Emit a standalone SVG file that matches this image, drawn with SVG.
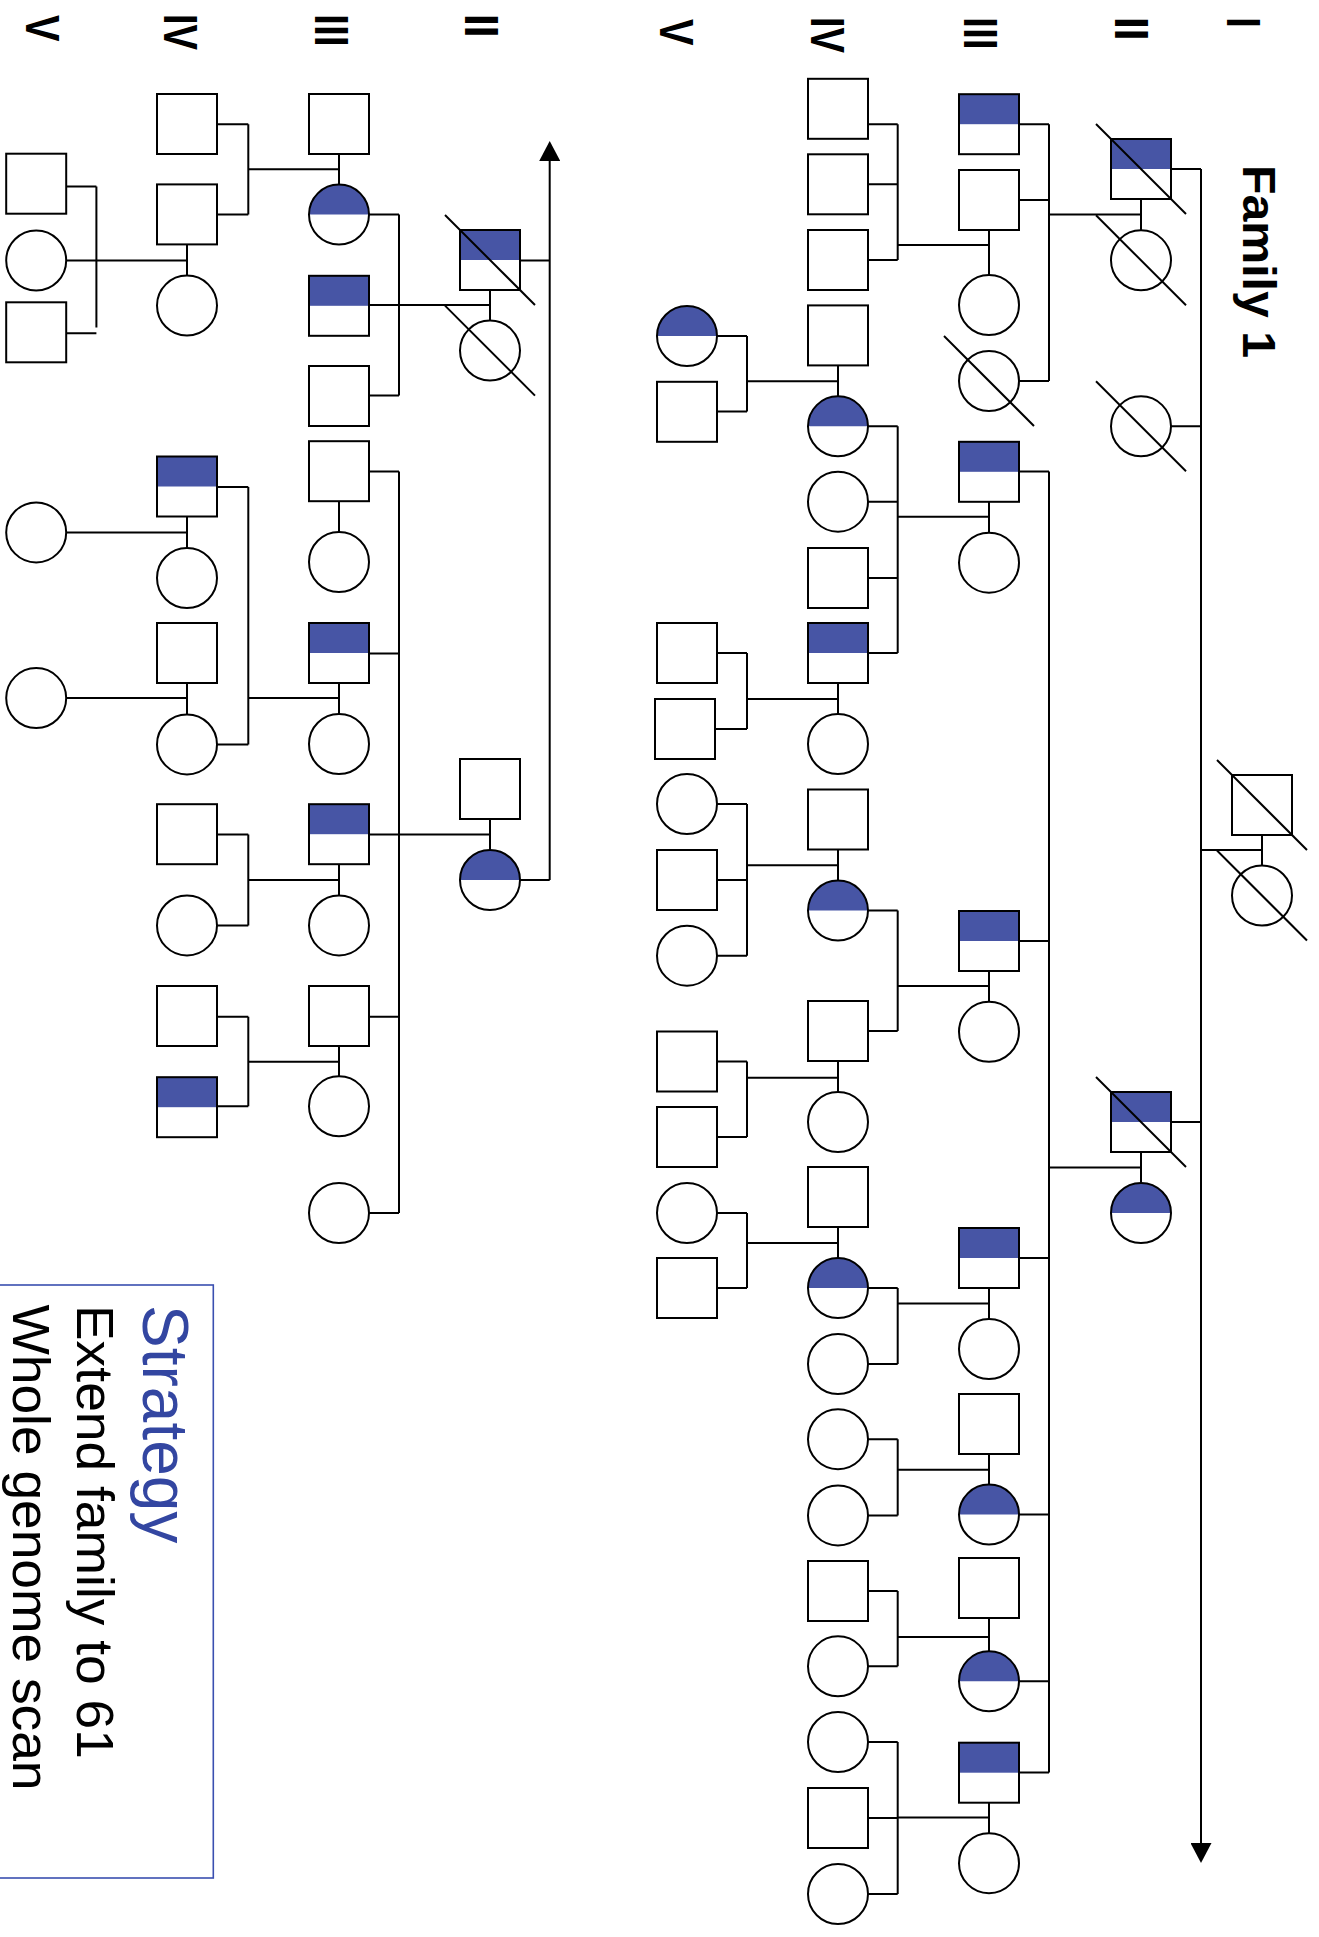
<svg xmlns="http://www.w3.org/2000/svg" width="1319" height="1937" viewBox="0 0 1319 1937">
<style>
.n{fill:#fff;stroke:#000;stroke-width:2}
.o{fill:none;stroke:#000;stroke-width:2}
.a{fill:#4755a5}
.s{stroke:#000;stroke-width:2}
.lk{fill:none;stroke:#000;stroke-width:2}
.gen{font-family:"Liberation Sans",Arial,sans-serif;font-weight:bold;font-size:49px;fill:#000}
.ttl{font-family:"Liberation Sans",Arial,sans-serif;font-weight:bold;font-size:47px;fill:#000}
.st{font-family:"Liberation Sans",Arial,sans-serif;font-size:64px;fill:#3346a1}
.bt{font-family:"Liberation Sans",Arial,sans-serif;font-size:52px;fill:#000}
</style>
<defs>
<marker id="arr" viewBox="0 0 20 21" refX="0" refY="10.5" markerWidth="20" markerHeight="21" markerUnits="userSpaceOnUse" orient="auto"><path d="M0,0 L20,10.5 L0,21 Z" fill="#000"/></marker>
<rect id="sq" x="-30" y="-30" width="60" height="60" class="n"/>
<g id="sqA"><rect x="-30" y="-30" width="60" height="60" fill="#fff"/><rect x="-30" y="-30" width="60" height="30" class="a"/><rect x="-30" y="-30" width="60" height="60" class="o"/></g>
<circle id="ci" r="30" class="n"/>
<g id="ciA"><circle r="30" fill="#fff"/><path d="M-30,0 A30,30 0 0 1 30,0 Z" class="a"/><circle r="30" class="o"/></g>
<line id="sl" x1="-45" y1="-45" x2="45" y2="45" class="s"/>
</defs>
<rect width="1319" height="1937" fill="#fff"/>

<g id="labels">
<text class="ttl" transform="translate(1243.3,165) rotate(90)" textLength="193" lengthAdjust="spacingAndGlyphs">Family 1</text>
<text class="gen" transform="translate(1227,17) rotate(90)" textLength="11" lengthAdjust="spacingAndGlyphs">I</text>
<text class="gen" transform="translate(1115,17) rotate(90)" textLength="23.5" lengthAdjust="spacingAndGlyphs">II</text>
<text class="gen" transform="translate(964,17) rotate(90)" textLength="32.7" lengthAdjust="spacingAndGlyphs">III</text>
<text class="gen" transform="translate(811,17) rotate(90)" textLength="36" lengthAdjust="spacingAndGlyphs">IV</text>
<text class="gen" transform="translate(660,19) rotate(90)" textLength="26.5" lengthAdjust="spacingAndGlyphs">V</text>
<text class="gen" transform="translate(465,14) rotate(90)" textLength="23.5" lengthAdjust="spacingAndGlyphs">II</text>
<text class="gen" transform="translate(315,14) rotate(90)" textLength="32.7" lengthAdjust="spacingAndGlyphs">III</text>
<text class="gen" transform="translate(164,14) rotate(90)" textLength="36" lengthAdjust="spacingAndGlyphs">IV</text>
<text class="gen" transform="translate(26,15) rotate(90)" textLength="26.5" lengthAdjust="spacingAndGlyphs">V</text>
</g>

<g id="connectors">
<line class="lk" x1="1201" y1="169" x2="1201" y2="1843" marker-end="url(#arr)"/>
<line class="lk" x1="549.7" y1="880" x2="549.7" y2="161" marker-end="url(#arr)"/>
<path class="lk" d="M1201,850 H1262 M1262,835 V865.5
M1171,169 H1201 M1171,426.3 H1201 M1171,1122 H1201
M1141,199 V230 M1049,214.6 H1141
M1141,1152 V1183 M1049,1167.4 H1141
M1049,124.2 V381 M1019,124.2 H1049 M1019,200 H1049 M1019,381 H1049
M989,230 V275 M897.7,245 H989
M1049,471.5 V1772.5
M1019,471.5 H1049 M1019,941 H1049 M1019,1258 H1049 M1019,1514.6 H1049 M1019,1681.3 H1049 M1019,1772.5 H1049
M989,502 V533 M897.7,516.8 H989
M989,971 V1002 M897.7,986 H989
M989,1288 V1319 M897.7,1303.5 H989
M989,1454 V1484.6 M897.7,1469.8 H989
M989,1618 V1651.3 M897.7,1637 H989
M989,1802.7 V1833.2 M897.7,1817.5 H989
M897.7,124.2 V260 M868,124.2 H897.7 M868,184.3 H897.7 M868,260 H897.7
M897.7,426.3 V653 M868,426.3 H897.7 M868,501.7 H897.7 M868,578 H897.7 M868,653 H897.7
M838,365.4 V396.3 M747,381.3 H838
M838,683 V714 M747,698.9 H838
M897.7,910.6 V1031 M868,910.6 H897.7 M868,1031 H897.7
M838,849.5 V880.6 M747,865.2 H838
M838,1061 V1092 M747,1077.7 H838
M897.7,1288 V1364 M868,1288 H897.7 M868,1364 H897.7
M838,1227 V1258 M747,1243 H838
M897.7,1439.2 V1515.4 M868,1439.2 H897.7 M868,1515.4 H897.7
M897.7,1591 V1666.3 M868,1591 H897.7 M868,1666.3 H897.7
M897.7,1742 V1894 M868,1742 H897.7 M868,1818 H897.7 M868,1894 H897.7
M747,336 V411.5 M717,336 H747 M717,411.5 H747
M747,653 V729 M717,653 H747 M715,729 H747
M747,804 V955.7 M717,804 H747 M717,880 H747 M717,955.7 H747
M747,1061.5 V1137 M717,1061.5 H747 M717,1137 H747
M747,1213 V1288 M717,1213 H747 M717,1288 H747"/>
<path class="lk" d="M520,260.5 H549.7 M520,880 H549.7
M490,290 V320.6 M399,305.1 H490
M490,819 V850 M399,834.4 H490
M399,214.6 V395.6 M369,214.6 H399 M369,305.1 H399 M369,395.6 H399
M339,154 V184.6 M248.3,169.2 H339
M399,471.4 V1213 M369,471.4 H399 M369,653.5 H399 M369,834.4 H399 M369,1016.7 H399 M369,1213 H399
M339,501.2 V532
M339,683 V714 M248.3,698.1 H339
M339,864.2 V895.4 M248.3,879.9 H339
M339,1046 V1076.3 M248.3,1061.7 H339
M248.3,124.2 V214.6 M217,124.2 H248.3 M217,214.6 H248.3
M187,244.4 V275.6 M66,260.5 H187
M248.3,487 V744.4 M217,487 H248.3 M217,744.4 H248.3
M187,516.5 V548 M66,532.4 H187
M187,683 V714.4 M66,698.1 H187
M248.3,834.4 V925.4 M217,834.4 H248.3 M217,925.4 H248.3
M248.3,1016.7 V1106.3 M217,1016.7 H248.3 M217,1106.3 H248.3
M96.4,186.4 V327.4 M66,186.4 H96.4 M66,333.3 H96.4"/>
</g>

<g id="family1">
<g id="f1-I-1"><use href="#sq" x="1262" y="805"/><use href="#sl" x="1262" y="805"/></g>
<g id="f1-I-2"><use href="#ci" x="1262" y="895.5"/><use href="#sl" x="1262" y="895.5"/></g>
<g id="f1-II-1"><use href="#sqA" x="1141" y="169"/><use href="#sl" x="1141" y="169"/></g>
<g id="f1-II-2"><use href="#ci" x="1141" y="260.3"/><use href="#sl" x="1141" y="260.3"/></g>
<g id="f1-II-3"><use href="#ci" x="1141" y="426.3"/><use href="#sl" x="1141" y="426.3"/></g>
<g id="f1-II-4"><use href="#sqA" x="1141" y="1122"/><use href="#sl" x="1141" y="1122"/></g>
<g id="f1-II-5"><use href="#ciA" x="1141" y="1213"/></g>
<g id="f1-III-1"><use href="#sqA" x="989" y="124.2"/></g>
<g id="f1-III-2"><use href="#sq" x="989" y="200"/></g>
<g id="f1-III-3"><use href="#ci" x="989" y="305"/></g>
<g id="f1-III-4"><use href="#ci" x="989" y="381"/><use href="#sl" x="989" y="381"/></g>
<g id="f1-III-5"><use href="#sqA" x="989" y="471.8"/></g>
<g id="f1-III-6"><use href="#ci" x="989" y="562.7"/></g>
<g id="f1-III-7"><use href="#sqA" x="989" y="941"/></g>
<g id="f1-III-8"><use href="#ci" x="989" y="1031.8"/></g>
<g id="f1-III-9"><use href="#sqA" x="989" y="1258"/></g>
<g id="f1-III-10"><use href="#ci" x="989" y="1349"/></g>
<g id="f1-III-11"><use href="#sq" x="989" y="1424"/></g>
<g id="f1-III-12"><use href="#ciA" x="989" y="1514.6"/></g>
<g id="f1-III-13"><use href="#sq" x="989" y="1588"/></g>
<g id="f1-III-14"><use href="#ciA" x="989" y="1681.3"/></g>
<g id="f1-III-15"><use href="#sqA" x="989" y="1772.7"/></g>
<g id="f1-III-16"><use href="#ci" x="989" y="1863.2"/></g>
<g id="f1-IV-1"><use href="#sq" x="838" y="108.8"/></g>
<g id="f1-IV-2"><use href="#sq" x="838" y="184.3"/></g>
<g id="f1-IV-3"><use href="#sq" x="838" y="260"/></g>
<g id="f1-IV-4"><use href="#sq" x="838" y="335.4"/></g>
<g id="f1-IV-5"><use href="#ciA" x="838" y="426.3"/></g>
<g id="f1-IV-6"><use href="#ci" x="838" y="501.7"/></g>
<g id="f1-IV-7"><use href="#sq" x="838" y="578"/></g>
<g id="f1-IV-8"><use href="#sqA" x="838" y="653"/></g>
<g id="f1-IV-9"><use href="#ci" x="838" y="744"/></g>
<g id="f1-IV-10"><use href="#sq" x="838" y="819.5"/></g>
<g id="f1-IV-11"><use href="#ciA" x="838" y="910.6"/></g>
<g id="f1-IV-12"><use href="#sq" x="838" y="1031"/></g>
<g id="f1-IV-13"><use href="#ci" x="838" y="1122"/></g>
<g id="f1-IV-14"><use href="#sq" x="838" y="1197"/></g>
<g id="f1-IV-15"><use href="#ciA" x="838" y="1288"/></g>
<g id="f1-IV-16"><use href="#ci" x="838" y="1364"/></g>
<g id="f1-IV-17"><use href="#ci" x="838" y="1439.2"/></g>
<g id="f1-IV-18"><use href="#ci" x="838" y="1515.4"/></g>
<g id="f1-IV-19"><use href="#sq" x="838" y="1591"/></g>
<g id="f1-IV-20"><use href="#ci" x="838" y="1666.3"/></g>
<g id="f1-IV-21"><use href="#ci" x="838" y="1742"/></g>
<g id="f1-IV-22"><use href="#sq" x="838" y="1818"/></g>
<g id="f1-IV-23"><use href="#ci" x="838" y="1894"/></g>
<g id="f1-V-1"><use href="#ciA" x="687" y="336"/></g>
<g id="f1-V-2"><use href="#sq" x="687" y="411.8"/></g>
<g id="f1-V-3"><use href="#sq" x="687" y="653"/></g>
<g id="f1-V-4"><use href="#sq" x="685" y="729"/></g>
<g id="f1-V-5"><use href="#ci" x="687" y="804"/></g>
<g id="f1-V-6"><use href="#sq" x="687" y="880"/></g>
<g id="f1-V-7"><use href="#ci" x="687" y="955.7"/></g>
<g id="f1-V-8"><use href="#sq" x="687" y="1061.5"/></g>
<g id="f1-V-9"><use href="#sq" x="687" y="1137"/></g>
<g id="f1-V-10"><use href="#ci" x="687" y="1213"/></g>
<g id="f1-V-11"><use href="#sq" x="687" y="1288"/></g>
</g>

<g id="family2">
<g id="f2-II-1"><use href="#sqA" x="490" y="260"/><use href="#sl" x="490" y="260"/></g>
<g id="f2-II-2"><use href="#ci" x="490" y="350.6"/><use href="#sl" x="490" y="350.6"/></g>
<g id="f2-II-3"><use href="#sq" x="490" y="789"/></g>
<g id="f2-II-4"><use href="#ciA" x="490" y="880"/></g>
<g id="f2-III-1"><use href="#sq" x="339" y="124"/></g>
<g id="f2-III-2"><use href="#ciA" x="339" y="214.6"/></g>
<g id="f2-III-3"><use href="#sqA" x="339" y="305.8"/></g>
<g id="f2-III-4"><use href="#sq" x="339" y="396"/></g>
<g id="f2-III-5"><use href="#sq" x="339" y="471.2"/></g>
<g id="f2-III-6"><use href="#ci" x="339" y="562"/></g>
<g id="f2-III-7"><use href="#sqA" x="339" y="653"/></g>
<g id="f2-III-8"><use href="#ci" x="339" y="744"/></g>
<g id="f2-III-9"><use href="#sqA" x="339" y="834.2"/></g>
<g id="f2-III-10"><use href="#ci" x="339" y="925.4"/></g>
<g id="f2-III-11"><use href="#sq" x="339" y="1016"/></g>
<g id="f2-III-12"><use href="#ci" x="339" y="1106.3"/></g>
<g id="f2-III-13"><use href="#ci" x="339" y="1213"/></g>
<g id="f2-IV-1"><use href="#sq" x="187" y="124"/></g>
<g id="f2-IV-2"><use href="#sq" x="187" y="214.4"/></g>
<g id="f2-IV-3"><use href="#ci" x="187" y="305.6"/></g>
<g id="f2-IV-4"><use href="#sqA" x="187" y="486.5"/></g>
<g id="f2-IV-5"><use href="#ci" x="187" y="578"/></g>
<g id="f2-IV-6"><use href="#sq" x="187" y="653"/></g>
<g id="f2-IV-7"><use href="#ci" x="187" y="744.4"/></g>
<g id="f2-IV-8"><use href="#sq" x="187" y="834.2"/></g>
<g id="f2-IV-9"><use href="#ci" x="187" y="925.4"/></g>
<g id="f2-IV-10"><use href="#sq" x="187" y="1016"/></g>
<g id="f2-IV-11"><use href="#sqA" x="187" y="1107.2"/></g>
<g id="f2-V-1"><use href="#sq" x="36.2" y="183.7"/></g>
<g id="f2-V-2"><use href="#ci" x="36.2" y="260.5"/></g>
<g id="f2-V-3"><use href="#sq" x="36.2" y="332.3"/></g>
<g id="f2-V-4"><use href="#ci" x="36.2" y="532.4"/></g>
<g id="f2-V-5"><use href="#ci" x="36.2" y="698.1"/></g>
</g>

<g id="strategy">
<rect x="-5" y="1285" width="218.3" height="593" fill="none" stroke="#3a4fb0" stroke-width="1.6"/>
<text class="st" transform="translate(143.3,1305) rotate(90)">Strategy</text>
<text class="bt" transform="translate(77.3,1305) rotate(90)" textLength="454" lengthAdjust="spacingAndGlyphs">Extend family to 61</text>
<text class="bt" transform="translate(13.3,1304.5) rotate(90)" textLength="486" lengthAdjust="spacingAndGlyphs">Whole genome scan</text>
</g>
</svg>
